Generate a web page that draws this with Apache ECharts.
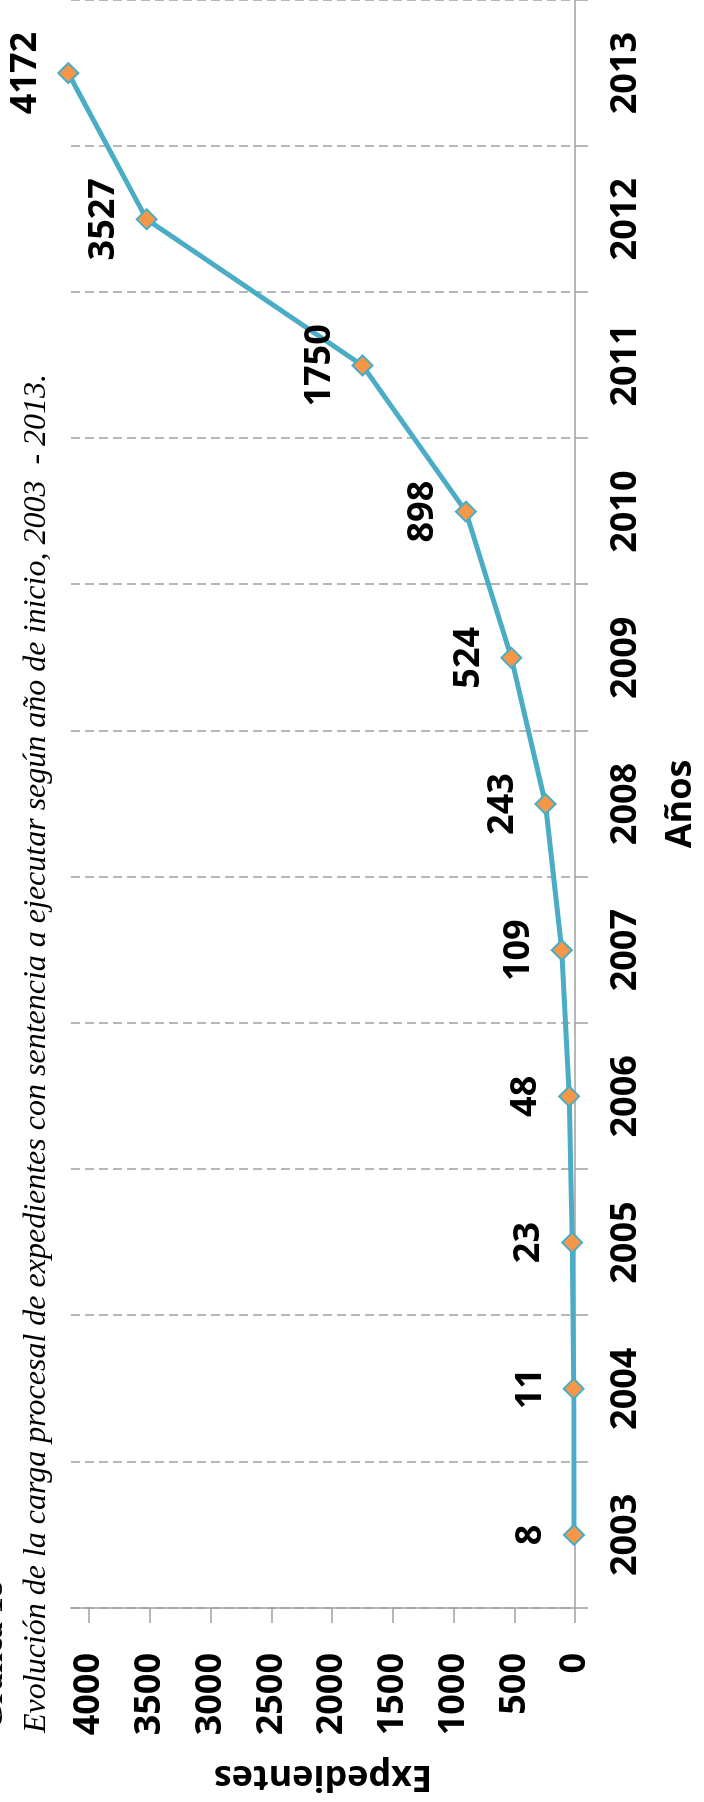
<!DOCTYPE html>
<html>
<head>
<meta charset="utf-8">
<script src="https://cdn.jsdelivr.net/npm/echarts@6/dist/echarts.min.js"></script>
<style>
  html, body { margin: 0; padding: 0; background: #fff; overflow: hidden; }
  body { width: 704px; height: 1802px; position: relative; }
  /* the chart is laid out landscape and turned a quarter turn counter-clockwise */
  #chart {
    position: absolute; left: 0; top: 0;
    width: 1802px; height: 704px;
    transform-origin: 0 0;
    transform: translateY(1802px) rotate(-90deg);
  }
</style>
</head>
<body>
<div id="chart"></div>
<script>
// Años de inicio
const years = ['2003', '2004', '2005', '2006', '2007', '2008', '2009', '2010', '2011', '2012', '2013'];
// Expedientes con sentencia a ejecutar
const expedientes = [8, 11, 23, 48, 109, 243, 524, 898, 1750, 3527, 4172];
// Marcas del eje de valores
const valueTicks = [0, 500, 1000, 1500, 2000, 2500, 3000, 3500, 4000];

const titleText = 'Gráfica 18';
const subtitleText = 'Evolución de la carga procesal de expedientes con sentencia a ejecutar según año de inicio, 2003  - 2013.';

const sans = '"Open Sans", "Noto Sans", sans-serif';
const serif = '"Liberation Serif", "DejaVu Serif", serif';
const axisGrey = '#a0a0a0';

const chart = echarts.init(document.getElementById('chart'), null, { renderer: 'canvas' });

chart.setOption({
  backgroundColor: '#ffffff',
  animation: false,
  title: [
    {
      text: titleText,
      left: 72, top: -23, padding: 0,
      textStyle: { fontFamily: serif, fontWeight: 'bold', fontSize: 33, color: '#000' }
    },
    {
      text: subtitleText,
      left: 69, top: 21, padding: 0,
      textStyle: { fontFamily: serif, fontStyle: 'italic', fontWeight: 'normal', fontSize: 32, color: '#000' }
    }
  ],
  grid: { left: 194, right: 0, top: 71, bottom: 121, containLabel: false },
  xAxis: {
    type: 'category',
    data: years,
    boundaryGap: true,
    name: 'Años',
    nameLocation: 'middle',
    nameGap: 88,
    nameTextStyle: { fontFamily: sans, fontWeight: 'bold', fontSize: 36, color: '#000' },
    axisLine: { show: true, lineStyle: { color: axisGrey, width: 1.5 } },
    axisTick: { show: true, length: 13, lineStyle: { color: axisGrey, width: 1.5 } },
    axisLabel: { fontFamily: sans, fontWeight: 'bold', fontSize: 36, color: '#000', margin: 33 },
    splitLine: { show: true, lineStyle: { color: axisGrey, width: 1.5, type: [9, 5] } }
  },
  yAxis: {
    type: 'value',
    min: 0,
    max: 4150,
    interval: 500,
    name: 'Expedientes',
    nameLocation: 'middle',
    nameGap: 150,
    nameTextStyle: { fontFamily: sans, fontWeight: 'bold', fontSize: 36, color: '#000' },
    axisLine: { show: true, lineStyle: { color: axisGrey, width: 1.5 } },
    axisTick: { show: true, length: 15, customValues: valueTicks, lineStyle: { color: axisGrey, width: 1.5 } },
    axisLabel: {
      fontFamily: sans, fontWeight: 'bold', fontSize: 36, color: '#000', margin: 45,
      customValues: valueTicks,
      formatter: (v) => String(v)
    },
    splitLine: { show: false }
  },
  series: [{
    type: 'line',
    data: expedientes,
    clip: false,
    symbol: 'diamond',
    symbolSize: 20,
    lineStyle: { color: '#4BACC6', width: 5 },
    itemStyle: { color: '#F79646', borderColor: '#4BACC6', borderWidth: 2 },
    label: {
      show: true,
      position: 'top',
      distance: 14,
      fontFamily: sans, fontWeight: 'bold', fontSize: 36, color: '#000'
    },
    z: 3
  }]
});
</script>
</body>
</html>
